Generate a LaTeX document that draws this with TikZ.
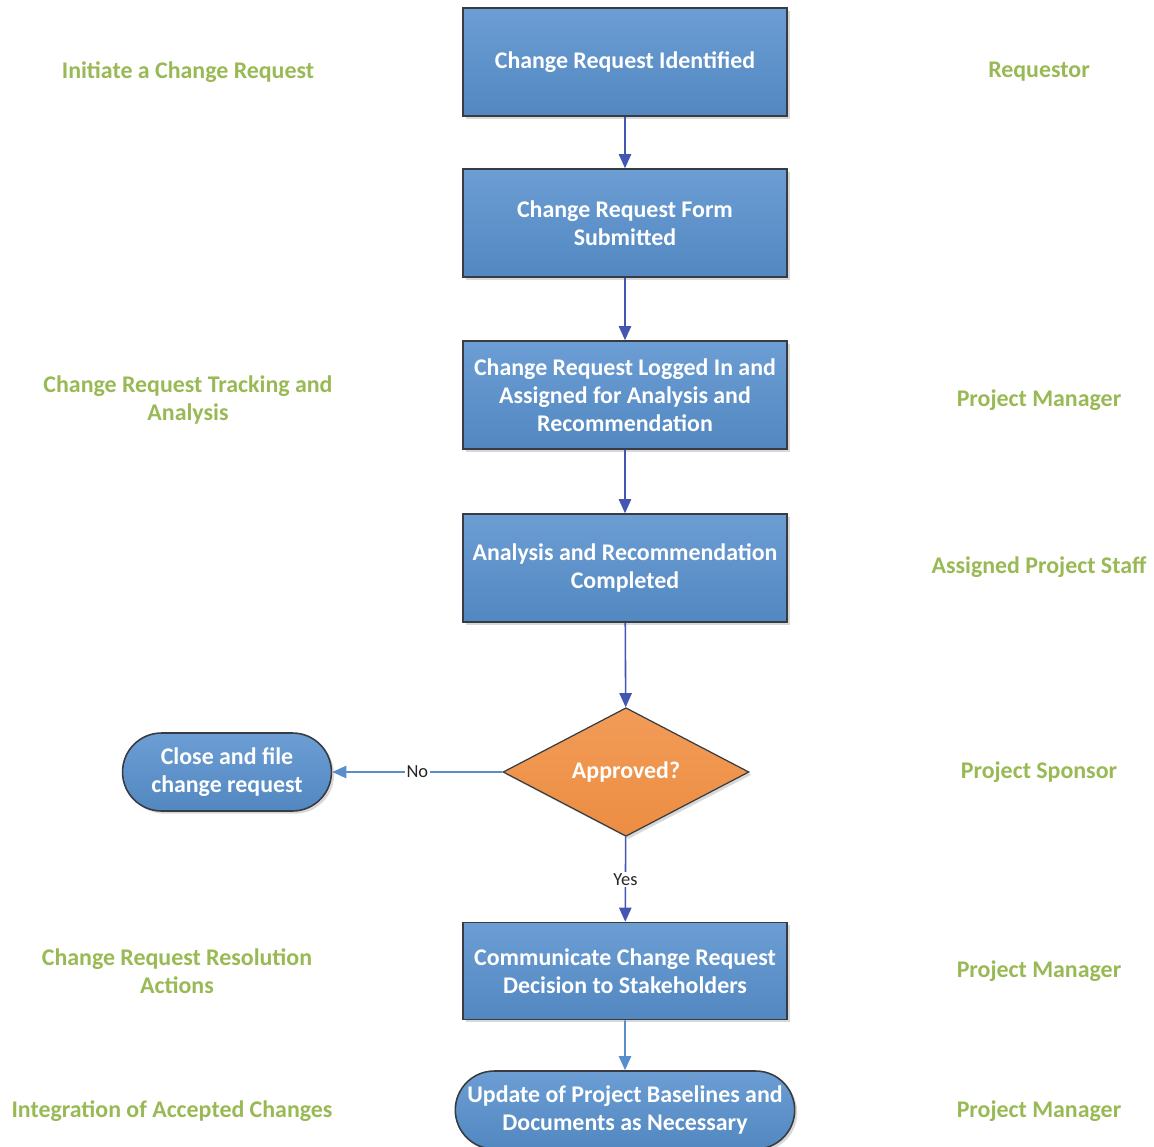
\documentclass[tikz,border=0pt]{standalone}
\usepackage{fontspec}
\setmainfont{Carlito}
\usepackage{xcolor}
\usetikzlibrary{arrows.meta,shapes.geometric,shapes.misc,shadows}
\definecolor{boxblue}{RGB}{82,135,192}
\definecolor{boxtop}{RGB}{108,158,212}
\definecolor{edgegray}{RGB}{55,60,66}
\definecolor{flowblue}{RGB}{66,86,178}
\definecolor{flowlight}{RGB}{88,142,204}
\definecolor{decideorange}{RGB}{236,141,66}
\definecolor{decidetop}{RGB}{242,156,88}
\definecolor{rolegreen}{RGB}{152,185,84}

\begin{document}
\begin{tikzpicture}[x=0.02cm, y=-0.02cm,
    font=\fontsize{13.6}{16}\selectfont\bfseries,
    stepbox/.style={rectangle, draw=edgegray, line width=0.9pt,
        top color=boxtop, bottom color=boxblue, text=white, align=center,
        minimum width=6.48cm, minimum height=2.16cm, inner sep=2pt,
        drop shadow={shadow xshift=1.5pt, shadow yshift=-1.5pt, fill=black!30, opacity=0.5}},
    endbox/.style={rounded rectangle, draw=edgegray, line width=0.9pt,
        top color=boxtop, bottom color=boxblue, text=white, align=center,
        minimum height=1.56cm, inner sep=2pt,
        drop shadow={shadow xshift=1.5pt, shadow yshift=-1.5pt, fill=black!30, opacity=0.5}},
    decide/.style={diamond, draw=edgegray, line width=0.7pt,
        top color=decidetop, bottom color=decideorange, text=white,
        minimum width=4.92cm, minimum height=2.54cm, inner sep=0pt,
        drop shadow={shadow xshift=1.5pt, shadow yshift=-1.5pt, fill=black!30, opacity=0.5}},
    rolelabel/.style={text=rolegreen, align=center},
    flow/.style={draw=flowblue, line width=0.9pt, -{Triangle[width=7pt,length=8pt]}},
    flowpale/.style={draw=flowlight, line width=0.9pt, -{Triangle[width=7pt,length=8pt]}},
    edgelabel/.style={font=\fontsize{10.5}{12}\selectfont, fill=white, inner sep=1pt, text=black!85}]

    \useasboundingbox (0,0) rectangle (1154,1147);

    % Process steps down the middle
    \node[stepbox] (identified) at (625,62) {Change Request Identified};
    \node[stepbox] (submitted) at (625,223) {Change Request Form\\Submitted};
    \node[stepbox] (logged) at (625,395) {Change Request Logged In and\\Assigned for Analysis and\\Recommendation};
    \node[stepbox] (analysed) at (625,568) {Analysis and Recommendation\\Completed};
    \node[decide] (approved) at (626,772) {Approved?};
    \node[endbox, minimum width=4.32cm] (closefile) at (227,772) {Close and file\\change request};
    \node[stepbox, minimum height=1.94cm] (communicate) at (625,971) {Communicate Change Request\\Decision to Stakeholders};
    \node[endbox, minimum width=6.68cm] (baselines) at (625,1110) {Update of Project Baselines and\\Documents as Necessary};

    % Connectors
    \draw[flow] (identified) -- (submitted);
    \draw[flow] (submitted) -- (logged);
    \draw[flow] (logged) -- (analysed);
    \draw[flow] (analysed) -- (approved);
    \draw[flowpale] (approved) -- node[edgelabel] {No} (closefile);
    \draw[flow] (approved) -- node[edgelabel] {Yes} (communicate);
    \draw[flowpale] (communicate) -- (baselines);

    % Phase labels (left)
    \node[rolelabel] (phaseA) at (188,72) {Initiate a Change Request};
    \node[rolelabel] (phaseB) at (188,400) {Change Request Tracking and\\Analysis};
    \node[rolelabel] (phaseC) at (177,971) {Change Request Resolution\\Actions};
    \node[rolelabel] (phaseD) at (172,1111) {Integration of Accepted Changes};

    % Role labels (right)
    \node[rolelabel] (roleA) at (1039,72) {Requestor};
    \node[rolelabel] (roleB) at (1039,400) {Project Manager};
    \node[rolelabel] (roleC) at (1039,567) {Assigned Project Staff};
    \node[rolelabel] (roleD) at (1039,772) {Project Sponsor};
    \node[rolelabel] (roleE) at (1039,971) {Project Manager};
    \node[rolelabel] (roleF) at (1039,1111) {Project Manager};
\end{tikzpicture}
\end{document}
